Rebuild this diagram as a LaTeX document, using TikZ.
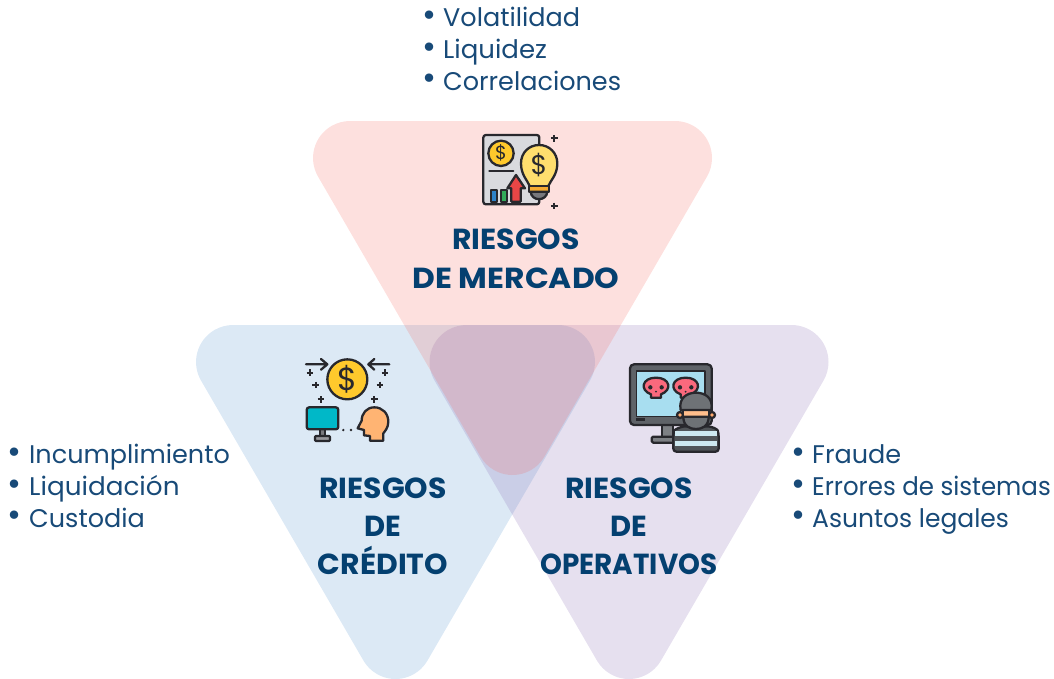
\documentclass[tikz,border=0pt]{standalone}
\usepackage{fontspec}
\setmainfont{Poppins}
\definecolor{pinkT}{RGB}{245,100,90}
\definecolor{blueT}{RGB}{80,145,205}
\definecolor{purpT}{RGB}{130,100,175}
\definecolor{listc}{RGB}{24,74,120}
\definecolor{titlec}{RGB}{4,64,112}
\definecolor{ink}{RGB}{40,40,45}
\definecolor{coiny}{RGB}{255,201,44}
\newcommand{\rtri}[3]{% cx, topy, colour
  \fill[#3,fill opacity=.2] ({#1-162.5},#2)
    -- ({#1+162.5},#2)
    arc[start angle=-90,end angle=30,radius=37]
    -- ({#1+32},{#2+335.5})
    arc[start angle=30,end angle=150,radius=37]
    -- ({#1-194.5},{#2+55.5})
    arc[start angle=150,end angle=270,radius=37] -- cycle;}
\tikzset{
  x=1pt,y=-1pt,
  listitem/.style={anchor=base west,text=listc,inner sep=0pt,transform shape,font=\fontsize{25.5}{25.5}\selectfont},
  bul/.style={anchor=center,text=listc,inner sep=0pt,font=\fontsize{34}{34}\selectfont},
  ttl/.style={anchor=base,text=titlec,inner sep=0pt,transform shape,font=\fontsize{29}{29}\selectfont\bfseries},
  ic/.style={draw=ink,line width=2.3pt,line join=round},
  iline/.style={draw=ink,line width=2.3pt,line cap=round,line join=round},
  plus/.pic={\draw[ink,line width=2.2pt] (-10,0)--(10,0) (0,-10)--(0,10);},
  doll/.style={text=ink,inner sep=0pt,anchor=center}
}
\begin{document}
\begin{tikzpicture}
\useasboundingbox (0,0) rectangle (1054,678);
\clip (0,0) rectangle (1054,678);
\rtri{395.5}{325}{blueT}
\rtri{629}{325}{purpT}
\rtri{512.5}{121}{pinkT}

% top list
\node[bul] (b1) at (429,19) {•}; \node[listitem] (v) at (443,26.5) {Volatilidad};
\node[bul] (b2) at (429,51) {•}; \node[listitem,xscale=1.02] (l) at (443,58) {Liquidez};
\node[bul] (b3) at (429,82) {•}; \node[listitem] (c) at (443,90.5) {Correlaciones};
% left list
\node[bul] (b4) at (15,456) {•}; \node[listitem] (i) at (29,463.5) {Incumplimiento};
\node[bul] (b5) at (15,488) {•}; \node[listitem,xscale=1.03] (q) at (29,495.5) {Liquidación};
\node[bul] (b6) at (15,519) {•}; \node[listitem] (u) at (29,527.5) {Custodia};
% right list
\node[bul] (b7) at (798,456) {•}; \node[listitem] (f) at (812,463.5) {Fraude};
\node[bul] (b8) at (798,488) {•}; \node[listitem,xscale=.96] (e) at (812,495.5) {Errores de sistemas};
\node[bul] (b9) at (798,519) {•}; \node[listitem,xscale=.98] (a) at (812,527.5) {Asuntos legales};

% titles
\node[ttl,xscale=1.03] (t1) at (516,249) {RIESGOS};
\node[ttl,xscale=1.08] (t2) at (516,288) {DE MERCADO};
\node[ttl,xscale=1.03] (t3) at (383,498) {RIESGOS};
\node[ttl] (t4) at (383,536) {DE};
\node[ttl,xscale=1.03] (t5) at (383,574) {CRÉDITO};
\node[ttl,xscale=1.03] (t6) at (629,498) {RIESGOS};
\node[ttl] (t7) at (629,536) {DE};
\node[ttl,xscale=.96] (t8) at (629,574) {OPERATIVOS};

% icon 1
\begin{scope}[shift={(470,125)},x=.3333pt,y=-.3333pt]
 \draw[ic,fill={rgb,255:red,217;green,218;blue,222},rounded corners=2.5pt] (40,30) rectangle (208,238);
 \draw[ic,fill=coiny] (93,85) circle[radius=38];
 \node[doll,font=\fontsize{19}{19}\selectfont] (d1) at (93,85) {\$};
 \draw[iline] (58,137)--(130,137);
 \draw[ic,fill={rgb,255:red,45;green,130;blue,200}] (62,195) rectangle (80,230);
 \draw[ic,fill={rgb,255:red,50;green,170;blue,90}] (92,195) rectangle (110,230);
 \draw[ic,fill={rgb,255:red,232;green,70;blue,70}] (138,150)--(165,190)--(152,190)--(152,230)--(124,230)--(124,190)--(112,190)--cycle;
 \draw[ic,fill={rgb,255:red,255;green,222;blue,110}] (180,185) .. controls (172,165) and (153,150) .. (153,115) .. controls (153,82) and (178,60) .. (207,60) .. controls (238,60) and (262,84) .. (262,115) .. controls (262,150) and (242,165) .. (234,185) -- cycle;
 \node[doll,font=\fontsize{27}{27}\selectfont] (d2) at (207,120) {\$};
 \draw[ic,fill={rgb,255:red,245;green,170;blue,50}] (178,183) rectangle (236,200);
 \draw[ic,fill={rgb,255:red,120;green,120;blue,125}] (182,200) .. controls (184,230) and (230,230) .. (232,200) -- cycle;
 \pic at (253,40) {plus};
 \pic at (253,243) {plus};
\end{scope}

% icon 2
\begin{scope}[shift={(295,350)},x=.3333pt,y=-.3333pt]
 \draw[ic,fill=coiny] (157,88) circle[radius=60];
 \node[doll,font=\fontsize{32}{32}\selectfont] (d3) at (157,88) {\$};
 \draw[iline] (33,43)--(97,43) (78,27)--(97,43)--(78,59);
 \draw[iline] (283,43)--(220,43) (238,27)--(220,43)--(238,59);
 \foreach \p in {(45,68),(62,105),(78,148),(270,68),(255,105),(238,148)} \pic at \p {plus};
 \draw[ic,fill={rgb,255:red,120;green,120;blue,125}] (75,238) rectangle (90,258);
 \draw[ic,fill={rgb,255:red,150;green,150;blue,155},rounded corners=1pt] (60,258) rectangle (105,273);
 \draw[ic,fill={rgb,255:red,0;green,184;blue,200},rounded corners=2.5pt] (35,172) rectangle (130,238);
 \fill[ink] (145,240) circle[radius=4] (168,240) circle[radius=4];
 \draw[ic,fill={rgb,255:red,255;green,180;blue,115}] (225,272)--(225,258)--(207,256)--(207,240)--(188,235)--(200,212)
   .. controls (200,190) and (215,172) .. (238,172)
   .. controls (262,172) and (280,190) .. (280,215)
   .. controls (280,235) and (268,245) .. (265,250)--(265,272)--cycle;
\end{scope}

% icon 3
\begin{scope}[shift={(620,355)},x=.3333pt,y=-.3333pt]
 \draw[ic,fill={rgb,255:red,125;green,128;blue,132}] (125,205) rectangle (160,245);
 \draw[ic,fill={rgb,255:red,125;green,128;blue,132},rounded corners=1.5pt] (95,245) rectangle (185,263);
 \draw[ic,fill={rgb,255:red,95;green,99;blue,104},rounded corners=4pt] (30,28) rectangle (275,210);
 \draw[ic,line width=1.2pt,fill={rgb,255:red,168;green,222;blue,240}] (50,48) rectangle (255,185);
 \fill[ink] (48,190) rectangle (75,197);
 \foreach \cx/\nm in {108/a,197/b}{
  \draw[ic,fill={rgb,255:red,250;green,105;blue,125}] (\cx-15,128)--(\cx-15,118) .. controls (\cx-50,105) and (\cx-42,68) .. (\cx,68) .. controls (\cx+42,68) and (\cx+50,105) .. (\cx+15,118) -- (\cx+15,128) -- cycle;
  \fill[ink] (\cx-17,97) circle[radius=6.5] (\cx+17,97) circle[radius=6.5] (\cx,110) circle[radius=3];
 }
 % thief body
 \draw[ic,fill={rgb,255:red,80;green,84;blue,88},rounded corners=3pt] (160,290)--(160,235) .. controls (165,222) and (185,215) .. (200,214) -- (258,214) .. controls (275,215) and (292,222) .. (296,235) -- (296,290) -- cycle;
 \fill[fill={rgb,255:red,205;green,232;blue,240}] (166,228) rectangle (290,242);
 \fill[fill={rgb,255:red,205;green,232;blue,240}] (166,258) rectangle (290,272);
 % head
 \draw[ic,fill={rgb,255:red,255;green,170;blue,110}] (180,180) circle[radius=9] (276,180) circle[radius=9];
 \draw[ic,fill={rgb,255:red,255;green,190;blue,140}] (190,165) rectangle (266,190);
 \draw[ic,fill={rgb,255:red,110;green,114;blue,118}] (190,185) -- (266,185) .. controls (266,215) and (245,222) .. (228,222) .. controls (211,222) and (190,215) .. (190,185) -- cycle;
 \draw[ic,fill={rgb,255:red,110;green,114;blue,118}] (182,165) .. controls (175,130) and (200,113) .. (228,113) .. controls (256,113) and (281,130) .. (274,165) -- cycle;
\end{scope}
\end{tikzpicture}
\end{document}
